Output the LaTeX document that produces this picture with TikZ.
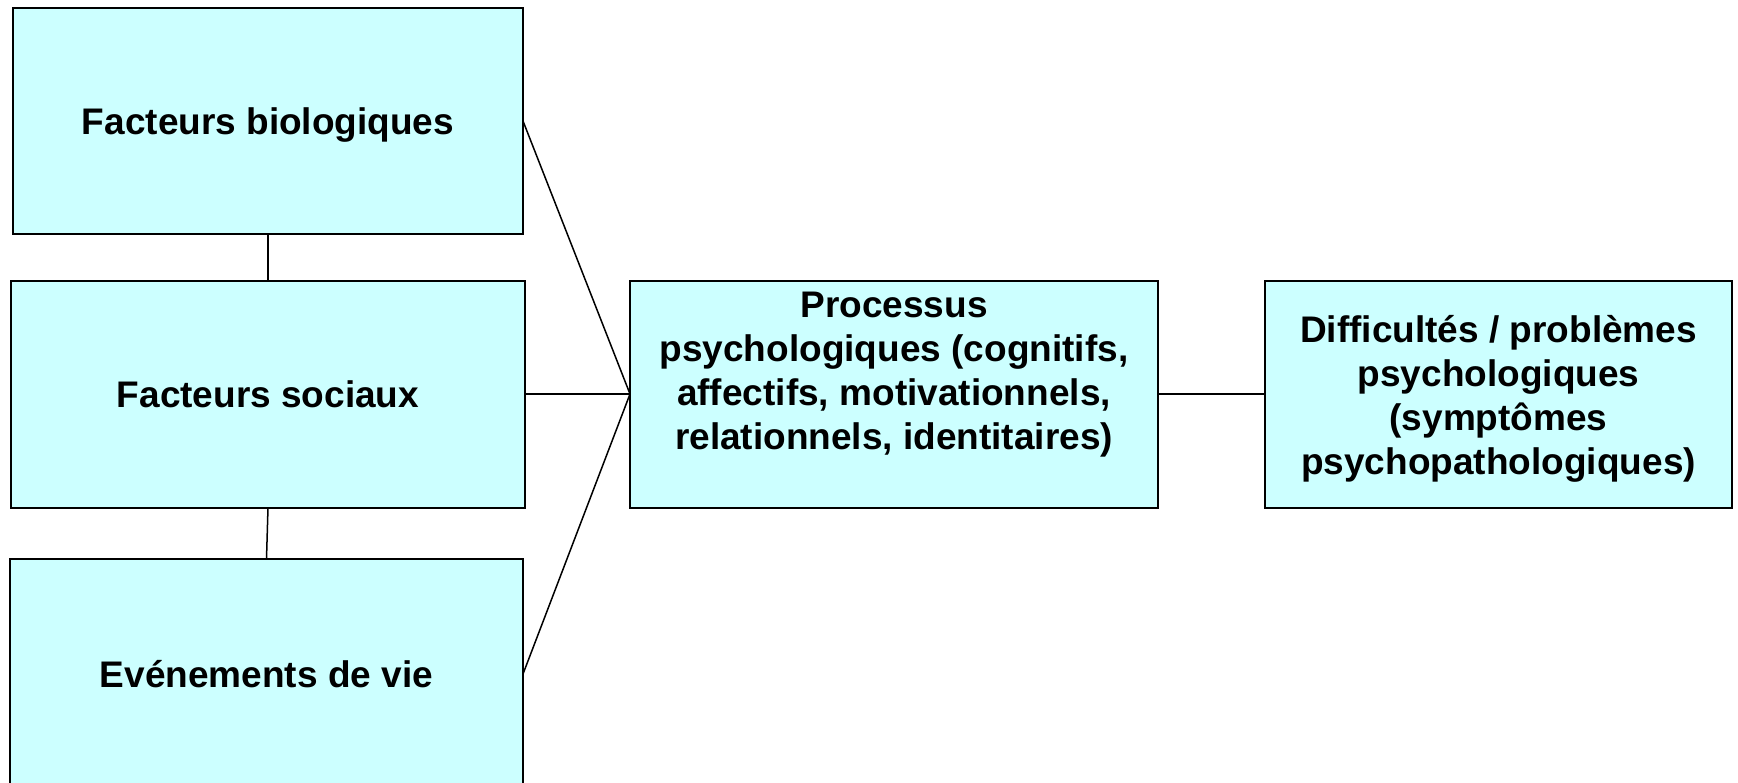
\documentclass[tikz,border=0pt]{standalone}
\usepackage{fontspec}
\setmainfont{Liberation Sans}
\begin{document}
\begin{tikzpicture}[x=0.5pt,y=-0.5pt,
  box/.style={draw=black, line width=1pt, fill=boxfill, inner sep=0pt, outer sep=0pt},
  txt/.style={align=center, font=\bfseries\fontsize{18.5pt}{22pt}\selectfont, inner sep=0pt},
  link/.style={draw=black, line width=0.75pt}]
\definecolor{boxfill}{RGB}{204,255,255}
\useasboundingbox (0,0) rectangle (1738,782);
\node[box, minimum width=255pt, minimum height=113pt] (b1) at (268,121) {};
\node[box, minimum width=257pt, minimum height=113.5pt] (b2) at (268,394) {};
\node[box, minimum width=256.5pt, minimum height=115pt] (b3) at (266.5,674) {};
\node[box, minimum width=264pt, minimum height=113.5pt] (b4) at (894,394) {};
\node[box, minimum width=233.5pt, minimum height=113.5pt] (b5) at (1498.5,394) {};
\node[txt, text depth=0pt] (t1) at (b1.center) {Facteurs biologiques};
\node[txt, text depth=0pt] (t2) at (b2.center) {Facteurs sociaux};
\node[txt, text depth=0pt] (t3) at (b3.center) {Evénements de vie};
\node[txt, anchor=north] (t4) at ([yshift=-5.7pt]b4.north) {Processus\\psychologiques (cognitifs,\\affectifs, motivationnels,\\relationnels, identitaires)};
\node[txt] (t5) at ([yshift=-2.5pt]b5.center) {Difficultés / problèmes\\psychologiques\\(symptômes\\psychopathologiques)};
\draw[link] (b1.south) -- (b2.north);
\draw[link] (b2.south) -- (b3.north);
\draw[link] (b1.east) -- (b4.west);
\draw[link] (b2.east) -- (b4.west);
\draw[link] (b3.east) -- (b4.west);
\draw[link] (b4.east) -- (b5.west);
\end{tikzpicture}
\end{document}
